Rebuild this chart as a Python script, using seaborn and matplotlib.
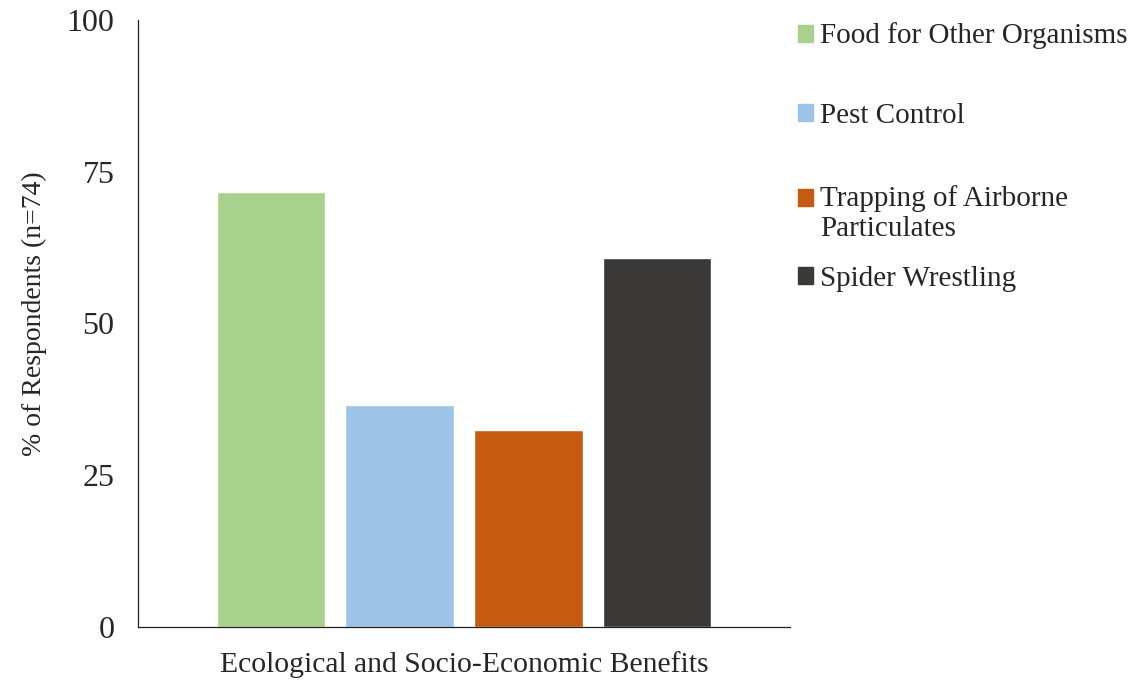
import pandas as pd
import seaborn as sns
import matplotlib.pyplot as plt
from matplotlib.legend_handler import HandlerPatch

categories = ['Food for Other Organisms', 'Pest Control',
              'Trapping of Airborne\nParticulates', 'Spider Wrestling']
percent = [71.6, 36.5, 32.4, 60.8]
colors = ['#A9D18E', '#9DC3E6', '#C55A11', '#3B3838']
y_ticks = [0, 25, 50, 75, 100]

df = pd.DataFrame({'benefit': categories, 'percent': percent})

sns.set_style('white')
plt.rcParams['font.family'] = ['Liberation Serif', 'DejaVu Serif']

fig = plt.figure(figsize=(11.33, 6.8), dpi=100)
ax = fig.add_axes([138 / 1133, 53 / 680, 652 / 1133, 607 / 680])

sns.barplot(data=df, x='benefit', y='percent', hue='benefit',
            palette=colors, width=0.84, saturation=1, ax=ax, legend=False)

ax.set_xlim(-1.03, 4.03)
ax.set_ylim(0, 100)
ax.set_yticks(y_ticks)
ax.set_yticklabels([str(t) for t in y_ticks], fontsize=23)
ax.set_xticks([])
ax.set_xlabel('Ecological and Socio-Economic Benefits', fontsize=21.3, labelpad=17)
ax.set_ylabel('% of Respondents (n=74)', fontsize=20, labelpad=14, y=0.516)
ax.tick_params(axis='y', length=0, pad=17)
for s in ['top', 'right']:
    ax.spines[s].set_visible(False)
for s in ['left', 'bottom']:
    ax.spines[s].set_color('#202020')
    ax.spines[s].set_linewidth(0.9)


# legend entries: square aligned to the first text line
def first_line_patch(shift):
    def make(legend, orig_handle, xdescent, ydescent, width, height, fontsize):
        return plt.Rectangle((-xdescent, -ydescent + shift), width, height)
    return make


row_y = [36, 116, 214, 279]
for lab, col, yy in zip(categories, colors, row_y):
    h = plt.Rectangle((0, 0), 1, 1, color=col)
    shift = 11.9 if '\n' in lab else 0
    fig.legend([h], [lab], loc='center left',
               bbox_to_anchor=(798 / 1133, 1 - yy / 680), frameon=False,
               fontsize=21, handlelength=0.52, handleheight=0.52,
               handletextpad=0.25, borderpad=0, borderaxespad=0,
               handler_map={h: HandlerPatch(patch_func=first_line_patch(shift))})

fig.savefig('out.png', dpi=100)
